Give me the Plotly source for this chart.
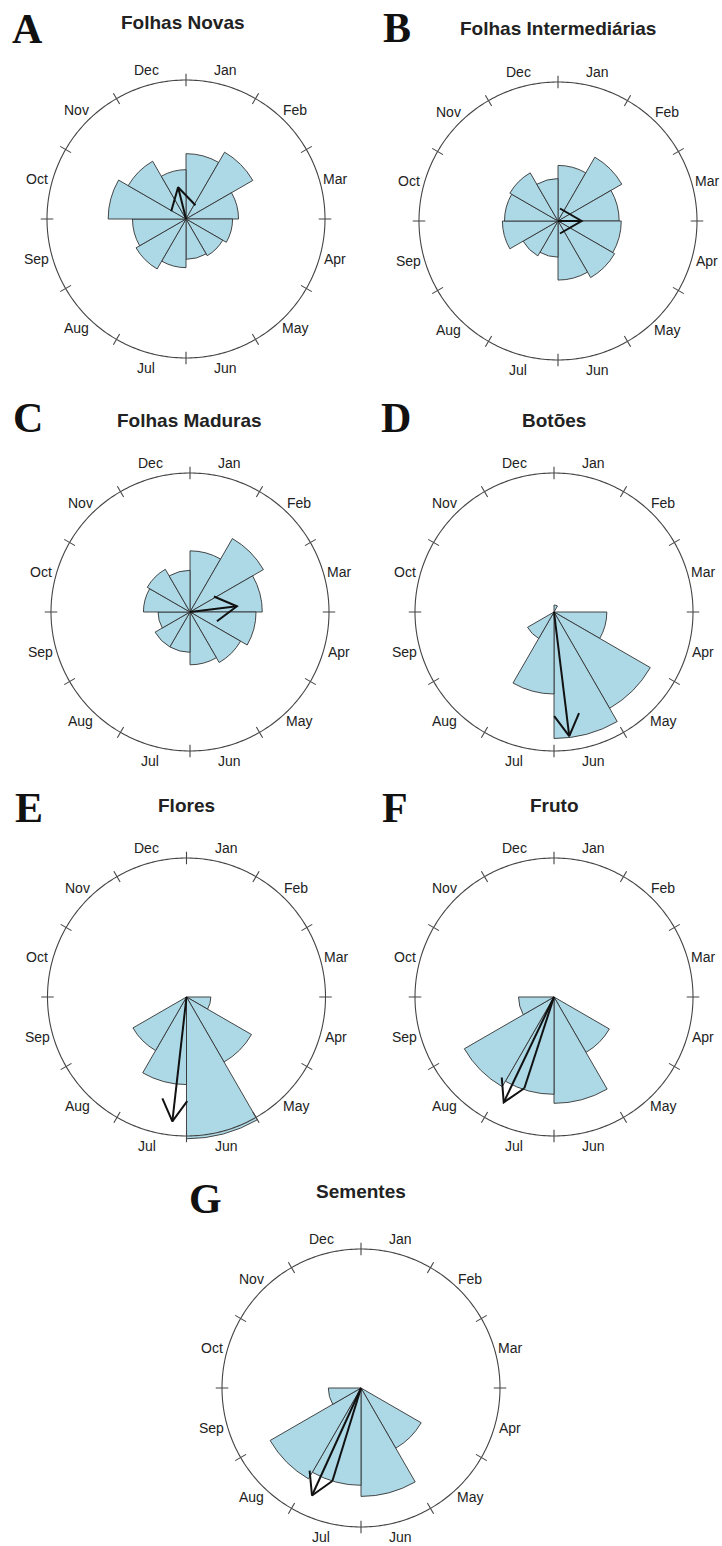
import math
import plotly.graph_objects as go

# ---------------- data ----------------
MONTHS = ["Jan", "Feb", "Mar", "Apr", "May", "Jun",
          "Jul", "Aug", "Sep", "Oct", "Nov", "Dec"]
MONTH_THETA = [15, 45, 75, 105, 135, 165, 195, 225, 255, 285, 315, 345]
TICK_THETA = [0, 30, 60, 90, 120, 150, 180, 210, 240, 270, 300, 330]

# bar lengths, relative to the outer circle (radius 1)
folhas_novas = [0.47, 0.555, 0.378, 0.335, 0.305, 0.29, 0.35, 0.415, 0.385, 0.56, 0.48, 0.355]
folhas_intermediarias = [0.40, 0.53, 0.44, 0.455, 0.47, 0.425, 0.26, 0.29, 0.40, 0.385, 0.40, 0.305]
folhas_maduras = [0.44, 0.61, 0.52, 0.475, 0.42, 0.38, 0.29, 0.29, 0.23, 0.335, 0.355, 0.30]
botoes = [0.05, 0, 0, 0.38, 0.80, 0.91, 0.59, 0.22, 0, 0, 0, 0]
flores = [0, 0, 0, 0.175, 0.54, 1.02, 0.63, 0.445, 0, 0, 0, 0]
fruto = [0, 0, 0, 0, 0.46, 0.765, 0.70, 0.745, 0.255, 0, 0, 0]
sementes = [0, 0, 0, 0, 0.50, 0.78, 0.70, 0.755, 0.235, 0, 0, 0]

SERIES = [folhas_novas, folhas_intermediarias, folhas_maduras, botoes, flores, fruto, sementes]
LETTERS = ["A", "B", "C", "D", "E", "F", "G"]
TITLES = ["Folhas Novas", "Folhas Intermediárias", "Folhas Maduras", "Botões",
          "Flores", "Fruto", "Sementes"]
# mean vector (direction in degrees clockwise from top, length relative to circle)
MEAN_ANGLE = [346, 90, 83, 173, 186.5, 205.5, 204.5]
MEAN_LENGTH = [0.235, 0.17, 0.34, 0.90, 0.90, 0.84, 0.85]
DOUBLE_ARROW = [False, False, False, False, False, True, True]

# ---------------- layout / style ----------------
W, H = 722, 1546
R_PX = 139.0          # pixel radius of the outer circle
RMAX = 1.06           # radial range shown
LABEL_R = 1.11        # month label distance (relative to circle)
CENTERS = [(186, 219), (558, 221), (190, 612), (554, 612),
           (186.5, 997), (554, 997), (361, 1388)]
LETTER_POS = [(28, 29), (397, 28), (28, 418), (396, 418), (29, 808), (395, 808), (205, 1199)]
TITLE_POS = [(183, 23), (558, 28), (189, 420), (554, 420), (186, 806), (554, 806), (361, 1191)]

BAR_FILL = "#ADD8E6"
EDGE = "#333333"
WING = 25.0 / R_PX
SANS = "Liberation Sans, Arial, sans-serif"

fig = go.Figure()
layout_polars = {}
annotations = []

for i, vals in enumerate(SERIES):
    key = "polar" if i == 0 else f"polar{i + 1}"
    cx, cy = CENTERS[i]
    half = RMAX * R_PX
    layout_polars[key] = dict(
        domain=dict(x=[(cx - half) / W, (cx + half) / W],
                    y=[1 - (cy + half) / H, 1 - (cy - half) / H]),
        bgcolor="rgba(0,0,0,0)",
        radialaxis=dict(range=[0, RMAX], showline=False, showgrid=False,
                        showticklabels=False, ticks=""),
        angularaxis=dict(direction="clockwise", rotation=90, showline=False,
                         showgrid=False, showticklabels=False, ticks=""),
    )

    # outer circle
    fig.add_trace(go.Scatterpolar(
        r=[1.0] * 361, theta=list(range(361)), mode="lines",
        line=dict(color="#444444", width=1.1), subplot=key,
        hoverinfo="skip", showlegend=False))

    # tick marks crossing the circle
    tr, tt = [], []
    for a in TICK_THETA:
        tr += [0.955, 1.045, None]
        tt += [a, a, None]
    fig.add_trace(go.Scatterpolar(
        r=tr, theta=tt, mode="lines", line=dict(color="#444444", width=1.1),
        subplot=key, hoverinfo="skip", showlegend=False))

    # rose bars
    fig.add_trace(go.Barpolar(
        r=vals, theta=MONTH_THETA, width=[30] * 12,
        marker=dict(color=BAR_FILL, line=dict(color=EDGE, width=0.9)),
        subplot=key, hoverinfo="skip", showlegend=False))

    # mean-vector arrow
    a = math.radians(MEAN_ANGLE[i])
    L = MEAN_LENGTH[i]
    tx, ty = L * math.sin(a), L * math.cos(a)
    wings = []
    for s in (-30, 30):
        b = a + math.pi + math.radians(s)
        wx, wy = tx + WING * math.sin(b), ty + WING * math.cos(b)
        wings.append((math.hypot(wx, wy), math.degrees(math.atan2(wx, wy)) % 360))
    ar = [0, L, None, wings[0][0], L, wings[1][0]]
    at = [MEAN_ANGLE[i], MEAN_ANGLE[i], None, wings[0][1], MEAN_ANGLE[i], wings[1][1]]
    if DOUBLE_ARROW[i]:
        ar += [None, 0, wings[1][0]]
        at += [None, MEAN_ANGLE[i], wings[1][1]]
    fig.add_trace(go.Scatterpolar(
        r=ar, theta=at, mode="lines", line=dict(color="#111111", width=2),
        subplot=key, hoverinfo="skip", showlegend=False))

    # month labels (placed around the circle, centred like R's text())
    for m, th in zip(MONTHS, MONTH_THETA):
        t = math.radians(th)
        mx = cx + LABEL_R * R_PX * math.sin(t)
        my = cy - LABEL_R * R_PX * math.cos(t)
        annotations.append(dict(
            x=mx / W, y=1 - my / H, xref="paper", yref="paper", text=m,
            showarrow=False, xanchor="center", yanchor="middle",
            font=dict(family=SANS, size=14, color="#222222")))

    lx, ly = LETTER_POS[i]
    annotations.append(dict(
        x=lx / W, y=1 - ly / H, xref="paper", yref="paper", text=f"<b>{LETTERS[i]}</b>",
        showarrow=False, xanchor="center", yanchor="middle",
        font=dict(family="Liberation Serif, Times New Roman, serif", size=42, color="#111111")))
    tx_, ty_ = TITLE_POS[i]
    annotations.append(dict(
        x=tx_ / W, y=1 - ty_ / H, xref="paper", yref="paper", text=f"<b>{TITLES[i]}</b>",
        showarrow=False, xanchor="center", yanchor="middle",
        font=dict(family=SANS, size=19, color="#222222")))

fig.update_layout(
    width=W, height=H, margin=dict(l=0, r=0, t=0, b=0),
    paper_bgcolor="white", plot_bgcolor="white",
    showlegend=False, annotations=annotations, **layout_polars)

# remove the browser's default 8px body margin so the figure fills the window exactly
fig.write_html("out.html",
               config={"displayModeBar": False, "staticPlot": True},
               post_script="document.body.style.margin='0px';document.body.style.overflow='hidden';")
